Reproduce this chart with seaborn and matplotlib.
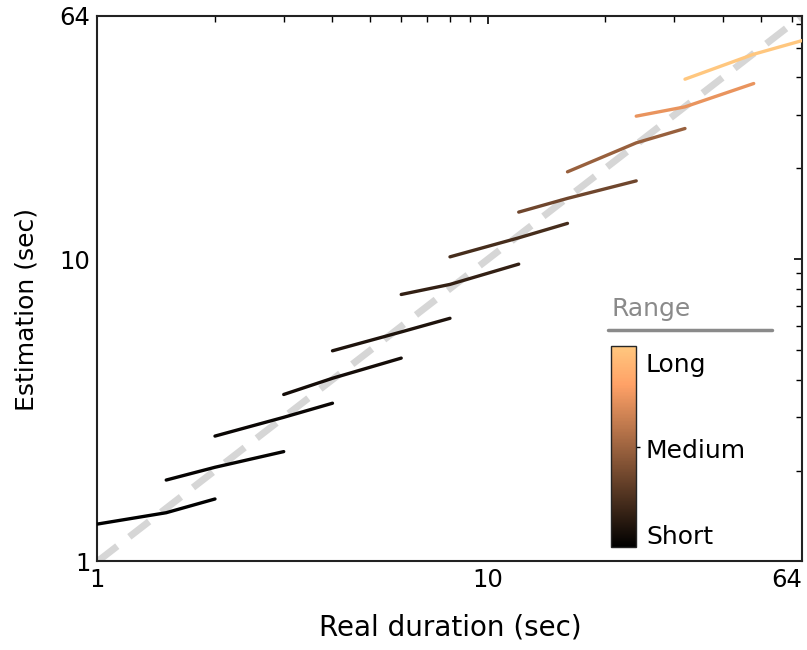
import numpy as np
import pandas as pd
import matplotlib
matplotlib.use("Agg")
import matplotlib.pyplot as plt
import matplotlib.ticker as mticker
import seaborn as sns

sns.set_theme(style="white")
plt.rcParams['font.family'] = ['DejaVu Sans']
plt.rcParams['text.color'] = 'black'
plt.rcParams['axes.labelcolor'] = 'black'
plt.rcParams['xtick.color'] = 'black'
plt.rcParams['ytick.color'] = 'black'

# ---- data ----
durations = [1, 1.5, 2, 3, 4, 6, 8, 12, 16, 24, 32, 48, 64]
range_names = ["R1", "R2", "R3", "R4", "R5", "R6", "R7", "R8", "R9", "R10", "R11"]
estimates = [
    [1.33, 1.45, 1.61],
    [1.86, 2.05, 2.31],
    [2.60, 3.00, 3.34],
    [3.57, 4.04, 4.71],
    [4.98, 5.75, 6.38],
    [7.65, 8.26, 9.64],
    [10.19, 11.78, 13.15],
    [14.33, 15.91, 18.18],
    [19.48, 24.29, 27.10],
    [29.77, 31.96, 38.18],
    [39.46, 47.73, 53.00],
]
range_starts = durations[:11]
tick_values = [1, 10, 64]
tick_labels = ["1", "10", "64"]
cbar_labels = ["Short", "Medium", "Long"]

rows = []
for i, name in enumerate(range_names):
    for j in range(3):
        rows.append({"range": name, "real": durations[i + j], "est": estimates[i][j]})
df = pd.DataFrame(rows)

cmap = plt.get_cmap("copper")
norm = matplotlib.colors.Normalize(vmin=min(range_starts), vmax=range_starts[-1])
palette = {name: cmap(norm(s)) for name, s in zip(range_names, range_starts)}

fig = plt.figure(figsize=(8.07, 6.5), dpi=100)
ax = fig.add_axes([0.1208, 0.1362, 0.8736, 0.8396])

ax.plot([1, 64], [1, 64], color="#d6d6d6", lw=5, dashes=(3.6, 2.2), zorder=1,
        solid_capstyle="butt")

sns.lineplot(data=df, x="real", y="est", hue="range", palette=palette,
             estimator=None, sort=False, lw=2.4, legend=False, ax=ax, zorder=3)

ax.set_xscale("log")
ax.set_yscale("log")
ax.set_xlim(1, 64)
ax.set_ylim(1, 64)
for loc in (ax.xaxis, ax.yaxis):
    loc.set_major_locator(mticker.FixedLocator(tick_values))
    loc.set_major_formatter(mticker.FixedFormatter(tick_labels))
    loc.set_minor_locator(mticker.LogLocator(base=10, subs=np.arange(2, 10), numticks=20))
    loc.set_minor_formatter(mticker.NullFormatter())
ax.tick_params(which="both", direction="in", top=True, right=True, color="black",
               labelsize=17.5, pad=5)
ax.tick_params(which="major", length=6, width=1.2)
ax.tick_params(which="minor", length=4, width=1.0)
xlabels = ax.get_xticklabels()
xlabels[-1].set_horizontalalignment("right")
xlabels[-1].set_x(64)
for s in ax.spines.values():
    s.set_color("#222222")
    s.set_linewidth(1.5)
ax.set_xlabel("Real duration (sec)", fontsize=20)
ax.set_ylabel("Estimation (sec)", fontsize=18)
ax.xaxis.set_label_coords(0.5, -0.095)
ax.yaxis.set_label_coords(-0.083, 0.4625)

# colorbar legend
cax = fig.add_axes([0.757, 0.1585, 0.031, 0.309])
sm = matplotlib.cm.ScalarMappable(cmap=cmap, norm=matplotlib.colors.Normalize(0, 1))
cb = fig.colorbar(sm, cax=cax)
cb.outline.set_linewidth(1.0)
cb.set_ticks([0.5])
cb.set_ticklabels([""])
cax.tick_params(length=3, width=1)
cax.text(1.4, 0.5 - 0.02, cbar_labels[1], transform=cax.transAxes, fontsize=18, va="center", ha="left")
cax.text(1.4, 0.905, cbar_labels[2], transform=cax.transAxes, fontsize=18, va="center", ha="left")
cax.text(1.4, 0.05, cbar_labels[0], transform=cax.transAxes, fontsize=18, va="center", ha="left")
fig.text(0.758, 0.524, "Range", fontsize=18, color="#8a8a8a", ha="left", va="center")
fig.add_artist(matplotlib.lines.Line2D([0.753, 0.957], [0.492, 0.492], color="#8a8a8a", lw=2.5))

fig.savefig("out.png", dpi=100)
